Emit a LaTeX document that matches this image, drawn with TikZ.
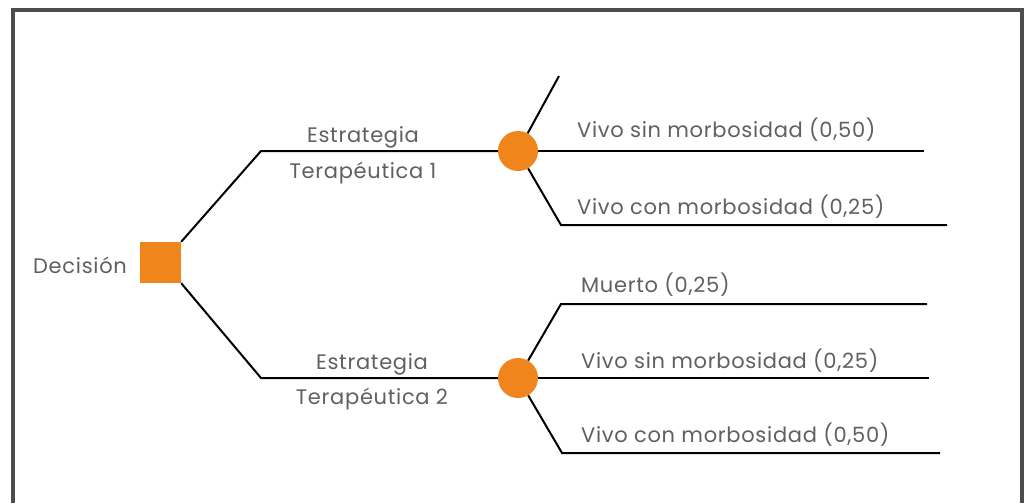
\documentclass[tikz,border=0pt]{standalone}
\usepackage{fontspec}
\setmainfont{Poppins}[LetterSpace=3.3]
\definecolor{orangeN}{HTML}{F0851B}
\definecolor{frameC}{HTML}{4D4D4D}
\definecolor{txtC}{HTML}{606060}
\begin{document}
\begin{tikzpicture}[x=1pt,y=-1pt,
  edge/.style={line width=2pt,black},
  lbl/.style={inner sep=0pt,text=txtC,font=\fontsize{21}{24}\selectfont},
  chance/.style={circle,fill=orangeN,minimum size=40pt,inner sep=0pt},
  decis/.style={rectangle,fill=orangeN,minimum size=41pt,inner sep=0pt}]
\useasboundingbox (0,0) rectangle (1030,503);
\fill[white] (0,0) rectangle (1030,503);
\draw[frameC,line width=3.5pt] (13,503) -- (13,10) -- (1022,10) -- (1022,503);
% coordinates
\coordinate (a1) at (261,151);
\coordinate (a2) at (261,378);
\coordinate (t0) at (559,76);
\coordinate (b1) at (924,151);
\coordinate (b2c) at (561,225);
\coordinate (b2) at (947,225);
\coordinate (d1c) at (561,304);
\coordinate (d1) at (927,304);
\coordinate (d2) at (929,378);
\coordinate (d3c) at (562,453);
\coordinate (d3) at (940,453);
% nodes
\node[decis] (dec) at (160.5,262.5) {};
\node[chance] (c1) at (518,151) {};
\node[chance] (c2) at (518,378) {};
% edges
\draw[edge] (dec.north east) -- (a1) -- (c1);
\draw[edge] (dec.south east) -- (a2) -- (c2);
\draw[edge] (c1) -- (t0);
\draw[edge] (c1) -- (b1);
\draw[edge] (c1) -- (b2c) -- (b2);
\draw[edge] (c2) -- (d1c) -- (d1);
\draw[edge] (c2) -- (d2);
\draw[edge] (c2) -- (d3c) -- (d3);
% labels
\node[lbl,anchor=base west] (ldec) at (33,273) {Decisión};
\node[lbl,anchor=base] (s1a) at (363,142) {Estrategia};
\node[lbl,anchor=base] (s1b) at (363,178) {Terapéutica 1};
\node[lbl,anchor=base] (s2a) at (372,369) {Estrategia};
\node[lbl,anchor=base] (s2b) at (372,404) {Terapéutica 2};
\node[lbl,anchor=base west] (o1) at (577,137) {Vivo sin morbosidad (0,50)};
\node[lbl,anchor=base west] (o2) at (577,214) {Vivo con morbosidad (0,25)};
\node[lbl,anchor=base west] (o3) at (581,292) {Muerto (0,25)};
\node[lbl,anchor=base west] (o4) at (581,368) {Vivo sin morbosidad (0,25)};
\node[lbl,anchor=base west] (o5) at (581,442) {Vivo con morbosidad (0,50)};
\end{tikzpicture}
\end{document}
